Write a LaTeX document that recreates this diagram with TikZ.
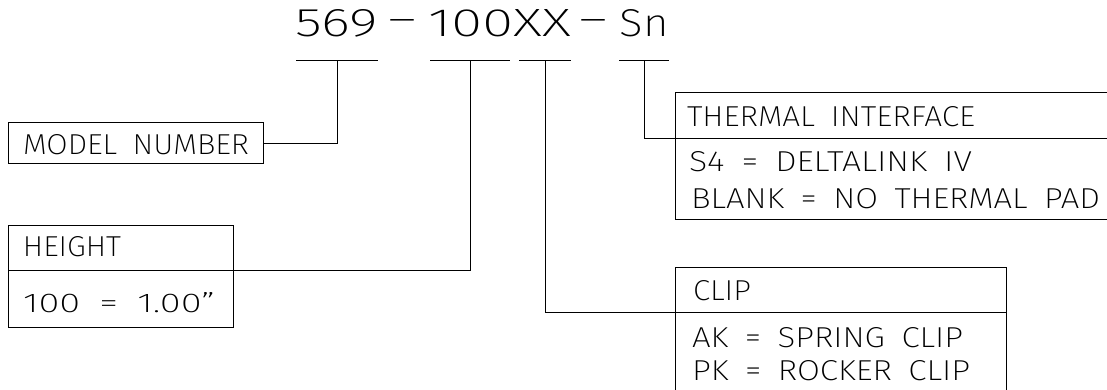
\documentclass[tikz,border=0pt]{standalone}
\usepackage{fontspec}
\usepackage{graphicx}
\IfFontExistsTF{Fira Sans ExtraLight}{\setmainfont{Fira Sans ExtraLight}}{%
 \IfFontExistsTF{Fira Sans Light}{\setmainfont{Fira Sans Light}}{%
   \setmainfont{Liberation Sans}}}
\newcommand{\fitt}[3]{\resizebox{#1pt}{#2pt}{#3}}
\newcommand{\gap}{\hspace{0.5em}}
\newcommand{\tdash}[1]{\raisebox{4.5pt}{\resizebox{#1pt}{\height}{\fontsize{39}{40}\selectfont –}}}
\begin{document}
\begin{tikzpicture}[x=1pt,y=-1pt,line width=1pt,
  frame/.style={draw,line width=1pt,inner sep=0pt,outer sep=0pt,anchor=north west},
  lbl/.style={anchor=base west,inner sep=0pt,outer sep=0pt},
  wire/.style={draw,line width=1pt}]
\useasboundingbox (0,0) rectangle (1107,390);

% title
\node[lbl] (title) at (295,37) {\fitt{83}{27}{569}\hspace{10.3pt}\tdash{28}\hspace{12pt}\fitt{143}{27}{100XX}\hspace{8.3pt}\tdash{28}\hspace{12pt}\fitt{49}{27}{Sn}};

% underline bars
\coordinate (u1) at (337,61);
\coordinate (u2) at (470,61);
\coordinate (u3) at (545,61);
\coordinate (u4) at (644,61);
\draw[wire] (296,61) -- (378,61);
\draw[wire] (430,61) -- (510,61);
\draw[wire] (519,61) -- (571,61);
\draw[wire] (619,61) -- (669,61);

% model number box
\node[frame,minimum width=255pt,minimum height=41pt] (model) at (8,123) {};
\node[lbl] (modeltxt) at (23,155) {\fitt{226}{20}{MODEL\gap NUMBER}};

% height box
\node[frame,minimum width=225pt,minimum height=102pt] (hbox) at (8,225) {};
\coordinate (hdivL) at (8,270);
\coordinate (hdivR) at (233,270);
\draw[wire] (hdivL) -- (hdivR);
\node[lbl] (htxt) at (23,256) {\fitt{98}{20}{HEIGHT}};
\node[lbl] (hval) at (23,312) {\fitt{192}{20}{100\gap=\gap 1.00”}};

% thermal box (runs off the right edge)
\coordinate (thTL) at (675,93);
\coordinate (thBR) at (1115,219);
\draw[wire] (thTL) rectangle (thBR);
\coordinate (thdivL) at (675,139);
\coordinate (thdivR) at (1115,139);
\draw[wire] (thdivL) -- (thdivR);
\node[lbl] (thtxt) at (687,127) {\fitt{288}{20}{THERMAL\gap INTERFACE}};
\node[lbl] (th1) at (689,172) {\fitt{283}{20}{S4\gap=\gap DELTALINK\gap IV}};
\node[lbl] (th2) at (691,208) {\fitt{409}{20}{BLANK\gap=\gap NO\gap THERMAL\gap PAD}};

% clip box (runs off the bottom edge)
\coordinate (clTL) at (675,267);
\coordinate (clBR) at (1006,400);
\draw[wire] (clTL) rectangle (clBR);
\coordinate (cldivL) at (675,312);
\coordinate (cldivR) at (1006,312);
\draw[wire] (cldivL) -- (cldivR);
\node[lbl] (cltxt) at (693,300) {\fitt{58}{20}{CLIP}};
\node[lbl] (cl1) at (692,347) {\fitt{271}{20}{AK\gap=\gap SPRING\gap CLIP}};
\node[lbl] (cl2) at (692,380) {\fitt{278}{20}{PK\gap=\gap ROCKER\gap CLIP}};

% connectors
\draw[wire] (model.east) -| (u1);
\draw[wire] (hdivR) -| (u2);
\draw[wire] (u3) |- (cldivL);
\draw[wire] (u4) |- (thdivL);
\end{tikzpicture}
\end{document}
